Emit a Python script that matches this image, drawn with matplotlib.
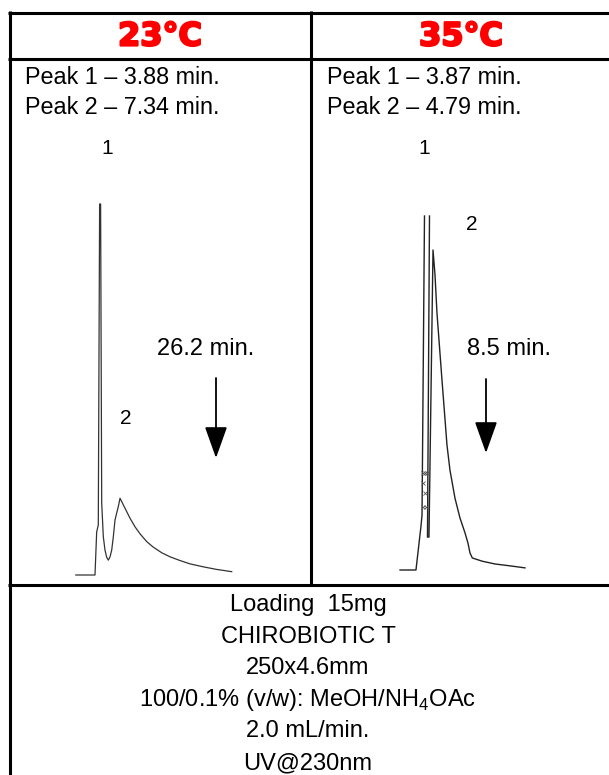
"""
Chromatogrammes CHIROBIOTIC T : effet de la température (23°C vs 35°C)
"""

import numpy as np
import matplotlib.pyplot as plt
import matplotlib.patheffects as pe

plt.rcParams['font.family'] = ['Liberation Sans', 'DejaVu Sans']
plt.rcParams['mathtext.fontset'] = 'custom'
plt.rcParams['mathtext.rm'] = 'Liberation Sans'

# --- données ---
temperatures = ['23°C', '35°C']
pics_23 = ['Peak 1 – 3.88 min.', 'Peak 2 – 7.34 min.']
pics_35 = ['Peak 1 – 3.87 min.', 'Peak 2 – 4.79 min.']
duree_23 = '26.2 min.'
duree_35 = '8.5 min.'
conditions = ['Loading  15mg', 'CHIROBIOTIC T', '250x4.6mm',
              '100/0.1% (v/w): MeOH/NH$_4$OAc', '2.0 mL/min.', 'UV@230nm']

# trace 23°C (temps en min, réponse relative en %)
t_23 = [-0.3, 3.01, 3.30, 3.58, 3.81, 3.98, 4.17, 4.45, 4.74, 5.03, 5.31,
        5.61, 5.90, 6.18, 6.47, 6.76, 7.04, 7.34, 7.91, 8.49, 9.07, 9.93,
        10.80, 11.96, 13.10, 14.55, 15.99, 17.72, 19.45, 21.75, 24.07, 26.66]
r_23 = [0, 0, 11.6, 13.5, 100, 100, 19.4, 10.3, 6.7, 4.8, 4.0,
        4.9, 6.7, 10.3, 14.8, 16.7, 18.4, 20.7, 18.9, 17.1, 15.3, 13.0,
        11.1, 9.0, 7.5, 6.0, 4.9, 3.9, 3.0, 2.2, 1.5, 0.9]

# trace 35°C (pic 1 hors échelle -> coupure)
t_35 = [-0.3, 2.15, 2.92, 3.08, 3.46, np.nan, 4.23, 3.92, 4.15, 4.77, 5.08,
        5.38, 5.77, 6.15, 6.54, 6.92, 7.38, 8.15, 8.92, 9.69, 10.15, 10.46,
        10.82, 12.31, 14.31, 16.92, 18.92]
r_35 = [0, 0, 12.4, 15.5, 100, np.nan, 100, 9.3, 9.3, 90.4, 83.3,
        72.6, 63.0, 53.7, 44.4, 35.3, 28.2, 20.3, 14.7, 10.5, 7.6, 4.8,
        3.4, 2.5, 1.7, 1.1, 0.6]
# petites marques sur le pic 1 (35°C)
t_marques = [3.2, 3.5, 3.8, 3.3, 3.6, 3.3, 3.7]
r_marques = [27.4, 27.4, 27.4, 24.6, 21.8, 17.8, 17.8]

W, H = 609, 775
fig = plt.figure(figsize=(W / 100, H / 100), dpi=100)
ax = fig.add_axes([0, 0, 1, 1])
ax.set_xlim(0, W)
ax.set_ylim(H, 0)
ax.axis('off')

# grille du tableau
lw_bord = 2.2
for y in [12.5, 58.5, 584.5]:
    ax.plot([8, W], [y, y], color='black', lw=lw_bord, solid_capstyle='butt')
ax.plot([9.5, 9.5], [11, H], color='black', lw=lw_bord, solid_capstyle='butt')
ax.plot([310.5, 310.5], [11, 586], color='black', lw=lw_bord, solid_capstyle='butt')

# en-têtes
for x, txt in zip([160, 461], temperatures):
    ax.text(x, 37, txt, color='#ff0000', fontsize=23, fontweight='bold',
            family='DejaVu Sans', ha='center', va='center',
            path_effects=[pe.withStroke(linewidth=1.6, foreground='#ff0000')])

# temps de rétention
for i, (a, b) in enumerate(zip(pics_23, pics_35)):
    ax.text(25, 77 + 31 * i, a, fontsize=16.8, ha='left', va='center')
    ax.text(327, 77 + 31 * i, b, fontsize=16.8, ha='left', va='center')

# conditions
for i, c in enumerate(conditions):
    ax.text(308, 605 + 31.6 * i, c, fontsize=17, ha='center', va='center')

# étiquettes des pics et durées
ax.text(107, 149, '1', fontsize=15, ha='center', va='center')
ax.text(126, 418, '2', fontsize=15, ha='center', va='center')
ax.text(424, 149, '1', fontsize=15, ha='center', va='center')
ax.text(472, 225, '2', fontsize=15, ha='center', va='center')
ax.text(206, 349, duree_23, fontsize=17, ha='center', va='center')
ax.text(509, 349, duree_35, fontsize=17, ha='center', va='center')

# flèches
for x, y0, y1 in [(216, 378, 458), (486, 379, 453)]:
    ax.annotate('', xy=(x, y1), xytext=(x, y0),
                arrowprops=dict(arrowstyle='-|>,head_length=1.4,head_width=0.5',
                                color='black', lw=1.3, shrinkA=0, shrinkB=0,
                                mutation_scale=14))


def boite(x0, x1, ybas, yhaut):
    return [x0 / W, 1 - ybas / H, (x1 - x0) / W, (ybas - yhaut) / H]


ax1 = fig.add_axes(boite(77.6, 240, 575, 204))
ax1.plot(t_23, r_23, color='#333333', lw=0.9, clip_on=False)
ax1.set_xlim(0, (240 - 77.6) / 5.78)
ax1.set_ylim(0, 100)
ax1.axis('off')

ax2 = fig.add_axes(boite(402, 530, 570, 216))
ax2.plot(t_35, r_35, color='#222222', lw=1.0, clip_on=False)
ax2.plot(t_marques, r_marques, ls='none', marker='x', ms=2.5, mew=0.6,
         color='#555555')
ax2.set_xlim(0, (530 - 402) / 6.5)
ax2.set_ylim(0, 100)
ax2.axis('off')

fig.savefig('out.png', dpi=100)
